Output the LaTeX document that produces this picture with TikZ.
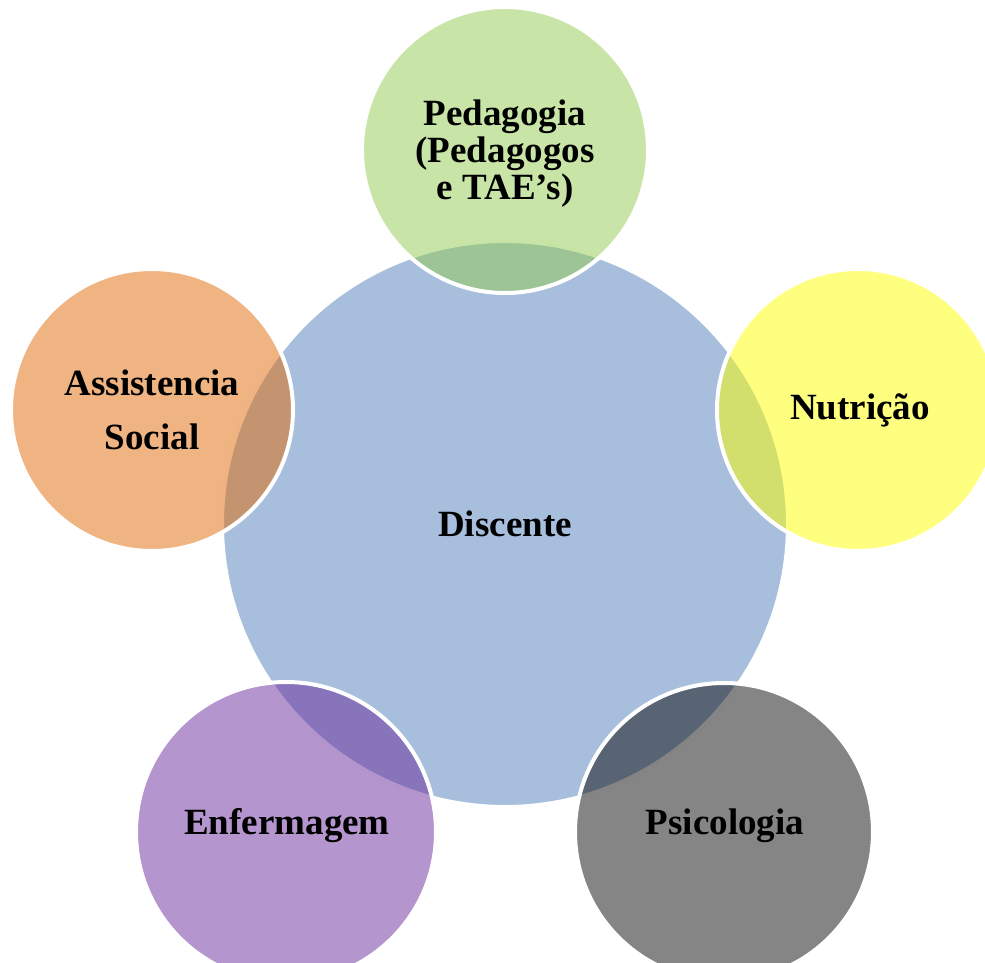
\documentclass[tikz,border=0pt]{standalone}
\usepackage{fontspec}
\setmainfont{Liberation Serif}
\definecolor{cblue}{RGB}{79,127,185}
\definecolor{cgreen}{RGB}{145,203,79}
\definecolor{cyellow}{RGB}{255,255,0}
\definecolor{corange}{RGB}{225,105,5}
\definecolor{cpurple}{RGB}{105,43,155}
\definecolor{cgray}{RGB}{11,11,11}
\begin{document}
\begin{tikzpicture}[x=1pt,y=-1pt,
  bubble/.style={circle, inner sep=0pt, draw=white, line width=4pt,
    fill opacity=0.5, draw opacity=1, text opacity=1, text=black,
    font=\bfseries\fontsize{37}{37}\selectfont, align=center},
  lbl/.style={font=\bfseries\fontsize{37}{37}\selectfont, align=center, inner sep=0pt}]
\useasboundingbox (0,0) rectangle (985,963);
\node[bubble, fill=cblue, minimum size=566pt] (dis) at (505,524) {Discente};
\node[bubble, fill=cgreen, minimum size=286pt] (ped) at (505,150) {};
\node[bubble, fill=corange, minimum size=282pt] (ass) at (152,410) {};
\node[bubble, fill=cyellow, minimum size=282pt] (nut) at (858,410) {};
\node[bubble, fill=cpurple, minimum size=300pt] (enf) at (286,832) {};
\node[bubble, fill=cgray, minimum size=298pt] (psi) at (724,832) {};
\node[lbl] (pedt) at (505,154) {Pedagogia\\(Pedagogos\\e TAE’s)};
\node[lbl, font=\bfseries\fontsize{37}{54}\selectfont] (asst) at (152,410) {Assistencia\\Social};
\node[lbl] (nutt) at (860,410) {Nutrição};
\node[lbl] (enft) at (287,826) {Enfermagem};
\node[lbl] (psit) at (725,826) {Psicologia};
\end{tikzpicture}
\end{document}
